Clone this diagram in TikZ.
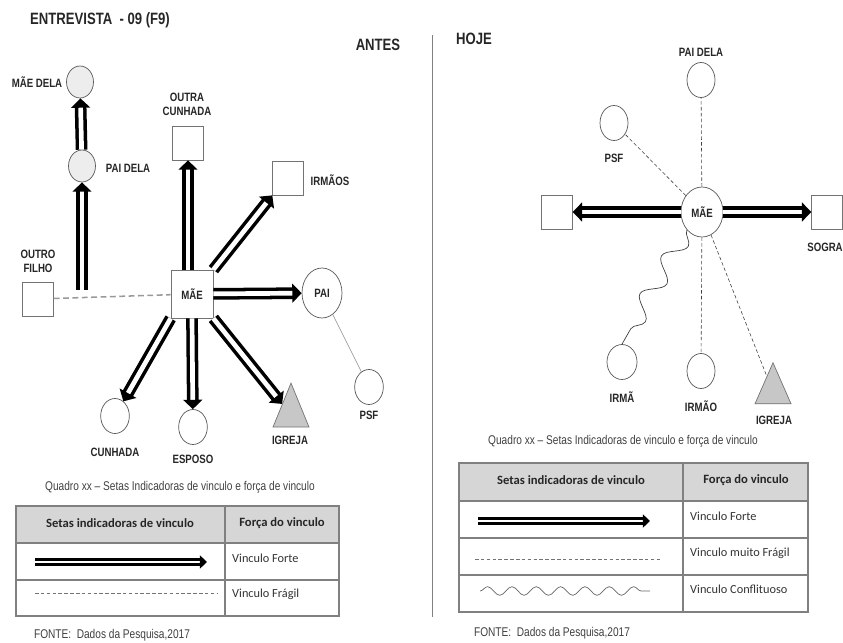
\documentclass[tikz,border=0pt]{standalone}
\usepackage{fontspec}
\setmainfont{Liberation Sans}
\newfontfamily\narrowfont[FakeStretch=0.8, Ligatures=TeX]{Liberation Sans}
\newfontfamily\tabfont{Carlito}
\usetikzlibrary{arrows.meta, shapes.geometric, decorations.pathmorphing}

\begin{document}
\begin{tikzpicture}[x=0.03cm, y=-0.03cm,
  titulo/.style={font=\narrowfont\bfseries\fontsize{14}{16}\selectfont,
    text=black!85},
  %
  rotulo/.style={font=\narrowfont\bfseries\fontsize{10.3}{12}\selectfont,
    text=black!85, align=center, inner sep=1pt},
  %
  pessoa/.style={draw=black!65, ellipse, fill=white, line width=.6pt,
    inner sep=0pt, minimum width=.86cm, minimum height=1.05cm},
  %
  pessoacinza/.style={pessoa, fill=black!7},
  %
  quadrado/.style={draw=black!55, rectangle, fill=white, line width=.6pt,
    inner sep=0pt, minimum width=.92cm, minimum height=1.02cm},
  %
  igreja/.style={draw=black!55, fill=black!22, line width=.6pt,
    isosceles triangle, isosceles triangle stretches, shape border rotate=90,
    inner sep=0pt, minimum width=1.08cm, minimum height=1.32cm},
  %
  forte/.style={line width=3pt, double=white, double distance=4pt,
    -{Triangle[length=8pt, width=16pt]}},
  %
  fragil/.style={draw=black!40, line width=1.3pt, dash pattern=on 5pt off 3pt},
  %
  muitofragil/.style={draw=black!75, line width=.5pt,
    dash pattern=on 3pt off 2pt},
  %
  conflito/.style={draw=black!75, line width=.6pt, decorate,
    decoration={snake, amplitude=.28cm, segment length=1.3cm}},
  %
  fino/.style={draw=black!45, line width=.5pt},
  %
  legenda/.style={font=\narrowfont\fontsize{10.8}{12}\selectfont, text=black!75},
  %
  cabecalho/.style={font=\tabfont\bfseries\fontsize{10.8}{12}\selectfont,
    text=black!85},
  %
  celula/.style={font=\tabfont\fontsize{10.5}{12}\selectfont, text=black!80,
    anchor=west, inner sep=0pt}
  ]

  \useasboundingbox (0,0) rectangle (843,642);

  \node [titulo] (entrevista) at (100,20) {ENTREVISTA\ \ - 09 (F9)};
  \node [titulo] (antes) at (378,45) {ANTES};
  \node [titulo] (hoje) at (474,39) {HOJE};
  \draw [black!50, line width=.8pt] (432,35) -- (432,617);

  %%%%%%%%%%%%%%%%%%%%%%%%%%%%%%% ANTES
  \begin{scope}
    \node [pessoacinza, minimum width=.81cm, minimum height=.96cm] (maedela) at (80,82) {};
    \node [rotulo] (lmaedela) at (37,82) {MÃE DELA};
    \node [pessoacinza, minimum width=.81cm, minimum height=.96cm] (paidela) at (82,166) {};
    \node [rotulo] (lpaidela) at (128,168) {PAI DELA};
    \node [quadrado] (outracunhada) at (188,143) {};
    \node [rotulo] (loutracunhada) at (187,104) {OUTRA\\CUNHADA};
    \node [quadrado] (irmaos) at (288,178) {};
    \node [rotulo] (lirmaos) at (330,180) {IRMÃOS};
    \node [quadrado] (outrofilho) at (38,299) {};
    \node [rotulo] (loutrofilho) at (38,261) {OUTRO\\FILHO};
    \node [quadrado, minimum width=1.26cm, minimum height=1.44cm, rotulo,
      draw=black!55] (mae) at (192,294) {MÃE};
    \node [pessoa, minimum width=1.2cm, minimum height=1.5cm, rotulo,
      draw=black!65] (pai) at (322,293) {PAI};
    \node [pessoa] (psf) at (369,387) {};
    \node [rotulo] (lpsf) at (369,415) {PSF};
    \node [pessoa] (cunhada) at (115,416) {};
    \node [rotulo] (lcunhada) at (115,452) {CUNHADA};
    \node [pessoa] (esposo) at (193,427) {};
    \node [rotulo] (lesposo) at (193,459) {ESPOSO};
    \node [igreja] (igreja) at (291,415) {};
    \node [rotulo] (ligreja) at (290,440) {IGREJA};
    \coordinate (ramo) at (82,290);
  \end{scope}

  \begin{scope}
    \draw [forte] (ramo) -- (paidela);
    \draw [forte] (paidela) -- (maedela);
    \draw [fragil] (outrofilho) -- (mae);
    \draw [forte] (mae.north -| outracunhada) -- (outracunhada);
    \draw [forte] (mae.north east) -- (irmaos.south west);
    \draw [forte] (mae) -- (pai);
    \draw [forte] (mae.south west) -- (cunhada);
    \draw [forte] (mae.south) -- (esposo);
    \draw [forte] (mae.south east) -- (igreja);
    \draw [fino] (pai) -- (psf);
  \end{scope}

  %%%%%%%%%%%%%%%%%%%%%%%%%%%%%%% HOJE
  \begin{scope}
    \node [pessoa, minimum width=.84cm] (paidelah) at (701,80) {};
    \node [rotulo] (lpaidelah) at (701,52) {PAI DELA};
    \node [pessoa, minimum width=.84cm] (psfh) at (614,123) {};
    \node [rotulo] (lpsfh) at (614,158) {PSF};
    \node [pessoa, minimum width=1.26cm, minimum height=1.5cm, rotulo,
      draw=black!65] (maeh) at (702,212) {MÃE};
    \node [quadrado] (outroh) at (557,212) {};
    \node [quadrado] (sogra) at (827,212) {};
    \node [rotulo] (lsogra) at (825,247) {SOGRA};
    \node [pessoa, minimum width=.9cm] (irma) at (622,362) {};
    \node [rotulo] (lirma) at (622,397) {IRMÃ};
    \node [pessoa, minimum width=.84cm] (irmao) at (701,371) {};
    \node [rotulo] (lirmao) at (701,406) {IRMÃO};
    \node [igreja, minimum height=1.23cm] (igrejah) at (773,392) {};
    \node [rotulo] (ligrejah) at (774,420) {IGREJA};
  \end{scope}

  \begin{scope}
    \draw [forte] (maeh) -- (outroh);
    \draw [forte] (maeh) -- (sogra);
    \draw [muitofragil] (maeh) -- (paidelah);
    \draw [muitofragil] (maeh) -- (psfh);
    \draw [muitofragil] (maeh) -- (irmao);
    \draw [muitofragil] (maeh) -- (igrejah);
    \draw [conflito] (maeh.south west) -- (irma.north);
  \end{scope}

  %%%%%%%%%%%%%%%%%%%%%%%%%%%%%%% quadro antes
  \begin{scope}
    \node [legenda] (quadroa) at (180,487)
      {Quadro xx – Setas Indicadoras de vinculo e força de vinculo};
    \fill [black!16] (16,506) rectangle (339,543);
    \draw [black!50, line width=1.2pt] (16,506) rectangle (339,616)
      (16,543) -- (339,543) (16,580) -- (339,580) (225,506) -- (225,616);
    \node [cabecalho] (seta) at (120,523) {Setas indicadoras de vinculo};
    \node [cabecalho] (forca) at (282,523) {Força do vinculo};
    \coordinate (fa1) at (35,562);
    \coordinate (fa2) at (207,562);
    \draw [forte, line width=2pt, double distance=2pt,
      -{Triangle[length=6pt, width=11pt]}] (fa1) -- (fa2);
    \node [celula] (vfa) at (232,558) {Vinculo Forte};
    \coordinate (fr1) at (35,593);
    \coordinate (fr2) at (218,593);
    \draw [muitofragil, draw=black!55] (fr1) -- (fr2);
    \node [celula] (vfr) at (232,594) {Vinculo Frágil};
    \node [legenda] (fontea) at (112,635) {FONTE:\ \ Dados da Pesquisa,2017};
  \end{scope}

  %%%%%%%%%%%%%%%%%%%%%%%%%%%%%%% quadro hoje
  \begin{scope}
    \node [legenda] (quadroh) at (623,441)
      {Quadro xx – Setas Indicadoras de vinculo e força de vinculo};
    \fill [black!16] (459,463) rectangle (808,501);
    \draw [black!50, line width=1.2pt] (459,463) rectangle (808,612)
      (459,501) -- (808,501) (459,538) -- (808,538) (459,575) -- (808,575)
      (683,463) -- (683,612);
    \node [cabecalho] (setah) at (571,480) {Setas indicadoras de vinculo};
    \node [cabecalho] (forcah) at (746,480) {Força do vinculo};
    \coordinate (fh1) at (478,521);
    \coordinate (fh2) at (650,521);
    \draw [forte, line width=2pt, double distance=2pt,
      -{Triangle[length=6pt, width=11pt]}] (fh1) -- (fh2);
    \node [celula] (vfh) at (690,516) {Vinculo Forte};
    \coordinate (mf1) at (475,559);
    \coordinate (mf2) at (660,559);
    \draw [muitofragil, draw=black!55] (mf1) -- (mf2);
    \node [celula] (vmf) at (690,553) {Vinculo muito Frágil};
    \coordinate (co1) at (480,591);
    \coordinate (co2) at (650,591);
    \draw [conflito, draw=black!60,
      decoration={snake, amplitude=.13cm, segment length=.73cm}] (co1) -- (co2);
    \node [celula] (vco) at (690,589) {Vinculo Conflituoso};
    \node [legenda] (fonteh) at (552,633) {FONTE:\ \ Dados da Pesquisa,2017};
  \end{scope}

\end{tikzpicture}
\end{document}
